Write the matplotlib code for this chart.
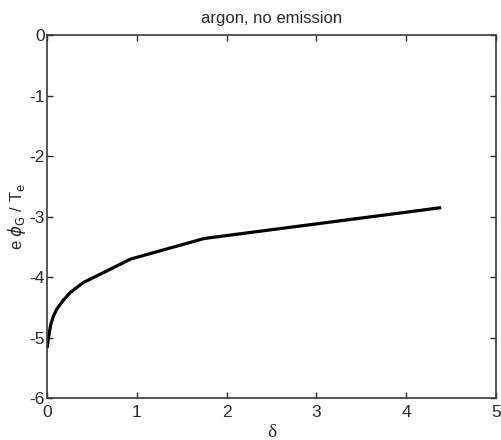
import matplotlib
matplotlib.use("Agg")
import matplotlib.pyplot as plt

# potential vs delta for argon (no emission)
delta = [0.0, 0.01, 0.02, 0.04, 0.07, 0.11, 0.18, 0.26, 0.40, 0.66, 0.93, 1.75, 4.39]
phi = [-5.17, -5.05, -4.95, -4.78, -4.64, -4.52, -4.38, -4.25, -4.09, -3.90, -3.70, -3.36, -2.85]

xticks = [0, 1, 2, 3, 4, 5]
yticks = [0, -1, -2, -3, -4, -5, -6]

plt.rcParams["font.family"] = ["Liberation Sans", "DejaVu Sans"]
plt.rcParams["axes.unicode_minus"] = False

fig = plt.figure(figsize=(5.02, 4.4), dpi=100)
ax = fig.add_axes([0.094, 0.095, 0.894, 0.825])

ax.plot(delta, phi, color="black", linewidth=2.3,
        solid_joinstyle="round", solid_capstyle="butt")

ax.set_xlim(0, 5)
ax.set_ylim(-6, 0)
ax.set_xticks(xticks)
ax.set_yticks(yticks)
ax.tick_params(direction="in", length=4, width=1, labelsize=12.5, colors="#2a2a2a",
               top=True, right=True)
ax.tick_params(axis="x", pad=5)
ax.tick_params(axis="y", pad=1.5)
for s in ax.spines.values():
    s.set_linewidth(1.2)
    s.set_color("#3a3a3a")

ax.set_title("argon, no emission", fontsize=12, color="#2a2a2a", pad=9)
ax.set_xlabel("δ", fontsize=14, family=["Liberation Serif", "DejaVu Serif"],
              color="#2a2a2a", labelpad=3)
ax.set_ylabel(r"e $\phi_{\rm G}$ / T$_{\rm e}$", fontsize=12, color="#2a2a2a", labelpad=1)

fig.savefig("out.png", dpi=100)
